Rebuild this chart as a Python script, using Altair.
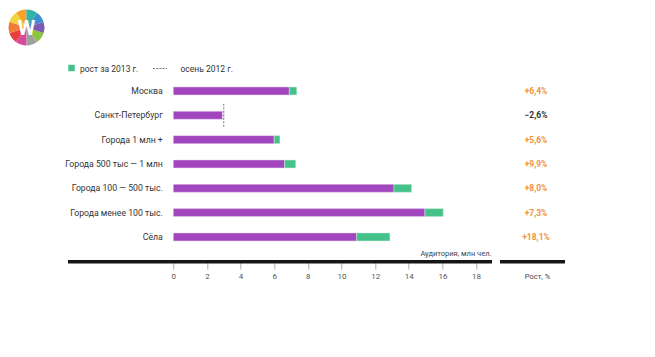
import altair as alt
import pandas as pd

# ---- data ----
categories = ["Москва", "Санкт-Петербург", "Города 1 млн +", "Города 500 тыс — 1 млн",
              "Города 100 — 500 тыс.", "Города менее 100 тыс.", "Сёла"]
autumn2012 = [6.90, 3.00, 6.00, 6.62, 13.12, 14.96, 10.90]
autumn2013 = [7.34, 2.92, 6.34, 7.28, 14.17, 16.05, 12.88]
growth_labels = ["+6,4%", "−2,6%", "+5,6%", "+9,9%", "+8,0%", "+7,3%", "+18,1%"]
x_ticks = [0, 2, 4, 6, 8, 10, 12, 14, 16, 18]
logo_colors = ["#E8403A", "#F7A32B", "#F2D53C", "#8BC53F", "#2FB4A8",
               "#3D8FD1", "#7B5BB5", "#D9499A", "#A0A0A0", "#F07C3A"]
logo_parts = [1, 1, 1, 1, 1, 1, 1, 1, 1, 1]

PURPLE = "#A246BE"
GREEN = "#45C28A"
ORANGE = "#F0923E"
DARK = "#333333"
FONT = "Roboto"

rows = []
for i, (c, a, b, g) in enumerate(zip(categories, autumn2012, autumn2013, growth_labels)):
    rows.append({
        "cat": c,
        "idx": i,
        "base": min(a, b),
        "g0": a,
        "g1": b if b > a else a,
        "prev": a if b < a else None,
        "label": g,
        "lcolor": ORANGE if b >= a else DARK,
    })
df = pd.DataFrame(rows)
dash_df = df[df["prev"].notna()].copy()
dash_df["y0"] = dash_df["idx"] - 0.47
dash_df["y1"] = dash_df["idx"] + 0.47
logo_df = pd.DataFrame({"c": logo_colors, "v": logo_parts})

# ---- layout (pixels) ----
L, T = 173.3, 78.8
W = 18 * 16.82
H = 7 * 24.33

yenc = alt.Y("cat:N", sort=categories,
             scale=alt.Scale(domain=categories, paddingInner=0, paddingOuter=0),
             axis=alt.Axis(title=None, ticks=False, domain=False, labelPadding=11,
                           labelFontSize=8.7, labelColor=DARK, labelFont=FONT))
xscale = alt.Scale(domain=[0, 18], nice=False, zero=True)
xaxis = alt.Axis(title=None, values=x_ticks, domain=False, grid=False, offset=13,
                 tickSize=7, tickColor="#b0b0b0", labelFontSize=8, labelColor="#555555",
                 labelFont=FONT, labelPadding=3, labelOverlap=False, labelFlush=False,
                 labelBound=False)

base = alt.Chart(df)

purple = base.mark_bar(size=8, color=PURPLE, stroke="#e6d6ee", strokeWidth=0.5).encode(
    x=alt.X("base:Q", scale=xscale, axis=xaxis), y=yenc)

green = base.mark_bar(size=8, color=GREEN, stroke="#d6eee2", strokeWidth=0.5).encode(
    x=alt.X("g0:Q", scale=xscale, axis=xaxis), x2="g1:Q", y=yenc)

pct = base.mark_text(fontSize=8.5, fontWeight="bold", font=FONT, align="center",
                     baseline="middle").encode(
    x=alt.value(536 - L), y=yenc, text="label:N", color=alt.Color("lcolor:N", scale=None))

main = alt.layer(purple, green, pct)

dash = alt.Chart(dash_df).mark_rule(color="#777777", strokeDash=[2, 1.5], strokeWidth=1).encode(
    x=alt.X("prev:Q", scale=xscale, axis=xaxis),
    y=alt.Y("y0:Q", scale=alt.Scale(domain=[6.5, -0.5], nice=False, zero=False), axis=None),
    y2="y1:Q")

axis_line = alt.Chart(pd.DataFrame({"a": [0]})).mark_rule(color="#151515", strokeWidth=3.5).encode(
    x=alt.value(68 - L), x2=alt.value(492 - L), y=alt.value(261.7 - T))
axis_line2 = alt.Chart(pd.DataFrame({"a": [0]})).mark_rule(color="#151515", strokeWidth=3.5).encode(
    x=alt.value(500 - L), x2=alt.value(565 - L), y=alt.value(261.7 - T))

aud_title = alt.Chart(pd.DataFrame({"t": ["Аудитория, млн чел."]})).mark_text(
    fontSize=7.5, font=FONT, color="#444444", align="right", baseline="middle").encode(
    x=alt.value(491.5 - L), y=alt.value(254 - T), text="t:N")
rost_title = alt.Chart(pd.DataFrame({"t": ["Рост, %"]})).mark_text(
    fontSize=7.5, font=FONT, color="#444444", align="center", baseline="middle").encode(
    x=alt.value(537.5 - L), y=alt.value(276.7 - T), text="t:N")

# legend
leg_sq = alt.Chart(pd.DataFrame({"a": [0]})).mark_square(size=42, color=GREEN, opacity=1).encode(
    x=alt.value(71.5 - L), y=alt.value(68 - T))
leg_t1 = alt.Chart(pd.DataFrame({"t": ["рост за 2013 г."]})).mark_text(
    fontSize=8.5, font=FONT, color=DARK, align="left", baseline="middle").encode(
    x=alt.value(80 - L), y=alt.value(68.5 - T), text="t:N")
leg_dash = alt.Chart(pd.DataFrame({"a": [0]})).mark_rule(color="#777777", strokeDash=[2, 1.2], strokeWidth=1).encode(
    x=alt.value(153 - L), x2=alt.value(167 - L), y=alt.value(68.5 - T))
leg_t2 = alt.Chart(pd.DataFrame({"t": ["осень 2012 г."]})).mark_text(
    fontSize=8.5, font=FONT, color=DARK, align="left", baseline="middle").encode(
    x=alt.value(180.5 - L), y=alt.value(68.5 - T), text="t:N")

# logo
logo = alt.Chart(logo_df).mark_arc(outerRadius=18).encode(
    theta=alt.Theta("v:Q", stack=True), color=alt.Color("c:N", scale=None),
    order=alt.Order("c:N"),
    x=alt.value(26.5 - L), y=alt.value(27.5 - T))
logo_w = alt.Chart(pd.DataFrame({"t": ["W"]})).mark_text(
    fontSize=20, fontWeight="bold", font=FONT, color="white", align="center",
    baseline="middle").encode(x=alt.value(26.5 - L), y=alt.value(29 - T), text="t:N")

chart = alt.layer(
    logo, logo_w, leg_sq, leg_t1, leg_dash, leg_t2,
    main, axis_line, axis_line2, aud_title, rost_title, dash
).resolve_scale(theta="independent", y="independent").properties(
    width=W, height=H,
    autosize=alt.AutoSizeParams(type="none"),
    padding={"left": L, "top": T, "right": 655 - L - W, "bottom": 357 - T - H},
    background="white",
).configure_view(stroke=None).configure_axisX(labelOverlap=False)

chart.save("out.html", embed_options={"renderer": "svg", "actions": False})
